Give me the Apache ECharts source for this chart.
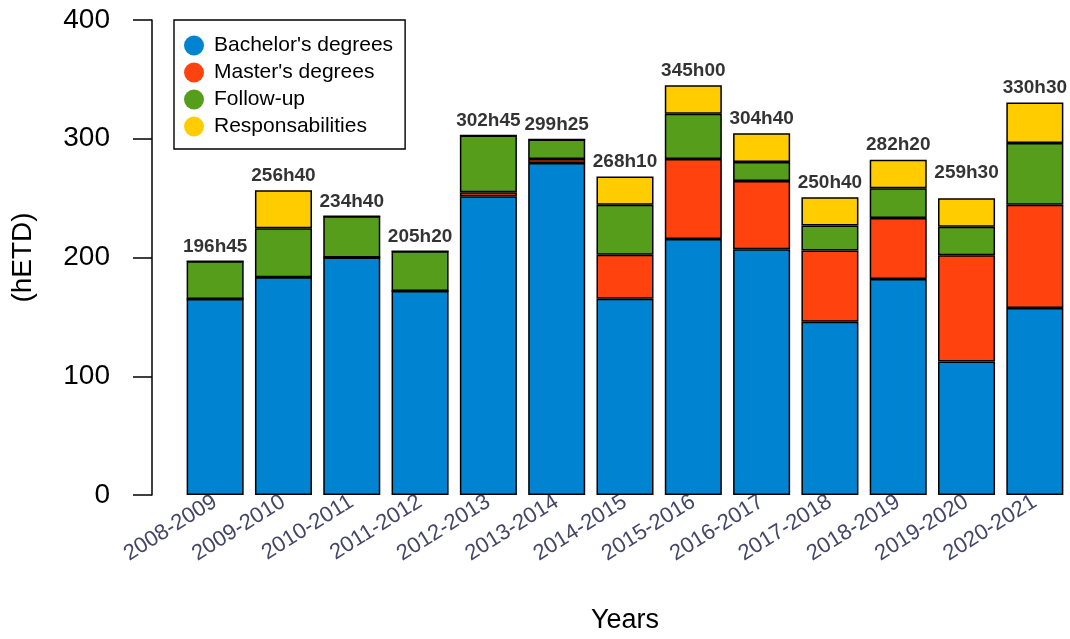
<!DOCTYPE html>
<html><head><meta charset="utf-8">
<script src="https://cdn.jsdelivr.net/npm/echarts@6/dist/echarts.min.js"></script>
<style>html,body{margin:0;padding:0;background:#fff}#c{width:1070px;height:639px}</style>
</head><body><div id="c"></div>
<script>
const categories = ['2008-2009','2009-2010','2010-2011','2011-2012','2012-2013','2013-2014','2014-2015','2015-2016','2016-2017','2017-2018','2018-2019','2019-2020','2020-2021'];
const bachelor = [165, 183.3, 200, 171.7, 251.5, 279.5, 165.3, 215.5, 207, 146, 182, 112.5, 157.5];
const master = [0, 0, 0, 0, 3.5, 3.5, 37, 67.5, 57.5, 60, 51.3, 89.5, 87];
const followUp = [31.75, 41.3, 34.67, 33.63, 47.75, 16.42, 42.2, 38, 16, 21, 25, 24, 52];
const responsabilities = [0, 32.07, 0, 0, 0, 0, 23.67, 24, 24.17, 23.67, 24.03, 24, 34];
const totals = [196.75, 256.67, 234.67, 205.33, 302.75, 299.42, 268.17, 345, 304.67, 250.67, 282.33, 259.5, 330.5];
const totalLabels = ['196h45','256h40','234h40','205h20','302h45','299h25','268h10','345h00','304h40','250h40','282h20','259h30','330h30'];
const seriesNames = ["Bachelor's degrees", "Master's degrees", 'Follow-up', 'Responsabilities'];
const colors = ['#0084D1', '#FF420E', '#579D1C', '#FFCC00'];

const FONT = '"Liberation Sans", Arial, Helvetica, sans-serif';
const chart = echarts.init(document.getElementById('c'), null, {renderer: 'canvas'});
const stackData = [bachelor, master, followUp, responsabilities];
const barSeries = stackData.map((d, i) => ({
  name: seriesNames[i],
  type: 'bar',
  stack: 'total',
  data: d,
  barCategoryGap: '16.5%',
  itemStyle: {color: colors[i], borderColor: '#000', borderWidth: 1.5},
  emphasis: {disabled: true}
}));
barSeries.push({
  name: 'totals',
  type: 'scatter',
  data: totals,
  symbolSize: 0,
  silent: true,
  label: {
    show: true, position: 'top', distance: 5,
    formatter: p => totalLabels[p.dataIndex],
    fontFamily: FONT, fontWeight: 'bold', fontSize: 19, color: '#000'
  },
  z: 10
});

chart.setOption({
  animation: false,
  backgroundColor: '#fff',
  color: colors,
  textStyle: {fontFamily: FONT},
  grid: {left: 181, right: 1, top: 20, bottom: 140},
  legend: {
    data: seriesNames.map((n, i) => ({name: n, icon: 'circle', itemStyle: {color: colors[i], borderWidth: 0}})),
    orient: 'vertical', left: 174, top: 20,
    itemWidth: 20, itemHeight: 20, itemGap: 6,
    padding: [15, 12, 12, 10],
    borderColor: '#000', borderWidth: 1.4, borderRadius: 0,
    backgroundColor: '#fff',
    textStyle: {fontFamily: FONT, fontSize: 21, color: '#000', padding: [0, 0, 0, 5]},
    selectedMode: false, z: 20
  },
  xAxis: {
    type: 'category', data: categories,
    axisLine: {show: false}, axisTick: {show: false},
    axisLabel: {interval: 0, rotate: 32, fontSize: 22, color: '#45456a', margin: 5, fontFamily: FONT},
    name: 'Years', nameLocation: 'middle', nameGap: 112,
    nameTextStyle: {fontSize: 27, color: '#000', fontFamily: FONT}
  },
  yAxis: {
    type: 'value', min: 0, max: 400, interval: 100, offset: 29,
    axisLine: {show: true, lineStyle: {color: '#000', width: 1.5}},
    axisTick: {show: true, length: 19, lineStyle: {color: '#000', width: 1.5}},
    axisLabel: {fontSize: 28, color: '#000', margin: 42, fontFamily: FONT},
    splitLine: {show: false},
    name: '(hETD)', nameLocation: 'middle', nameGap: 115,
    nameTextStyle: {fontSize: 28, color: '#000', fontFamily: FONT}
  },
  series: barSeries
});
</script></body></html>
